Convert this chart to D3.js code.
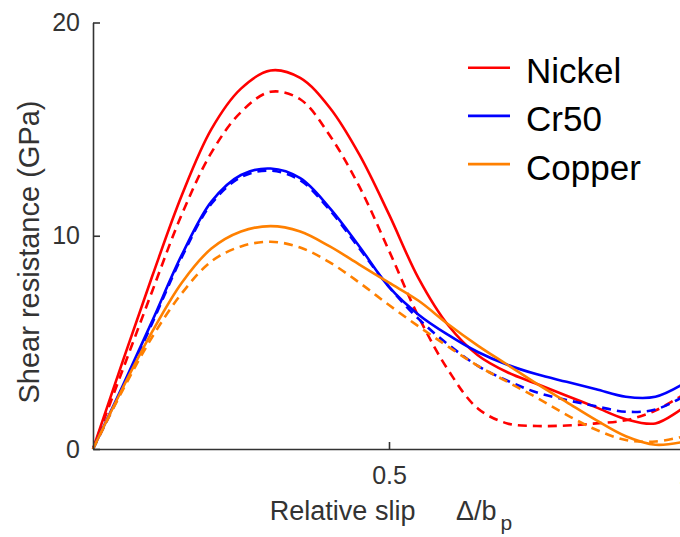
<!DOCTYPE html>
<html>
<head>
<meta charset="utf-8">
<script src="https://cdn.jsdelivr.net/npm/d3@7"></script>
<style>
  html, body { margin: 0; padding: 0; background: #fff; }
  svg { display: block; font-family: "Liberation Sans", Arial, sans-serif; }
</style>
</head>
<body>
<div id="chart"></div>
<script>
// Relative slip positions (Δ/b_p)
const slip = [0, 0.05, 0.1, 0.15, 0.2, 0.25, 0.3, 0.35, 0.4, 0.45, 0.5,
  0.55, 0.6, 0.65, 0.7, 0.75, 0.8, 0.85, 0.9, 0.95, 1.0];

// Shear resistance (GPa), solid = full model, dashed = approximation
const nickelSolid = [0, 4.1, 8.1, 11.9, 15.0, 16.9, 17.75, 17.4, 16.0, 13.8, 11.0,
  8.0, 5.8, 4.4, 3.6, 3.05, 2.5, 1.95, 1.4, 1.2, 2.0];
const nickelDashed = [0, 3.7, 7.4, 11.0, 13.9, 15.8, 16.75, 16.4, 14.7, 12.3, 9.3,
  6.2, 3.7, 1.9, 1.2, 1.08, 1.1, 1.2, 1.35, 1.8, 2.6];
const cr50Solid = [0, 2.95, 6.0, 9.1, 11.6, 12.85, 13.15, 12.7, 11.3, 9.5, 7.6,
  6.3, 5.35, 4.55, 3.95, 3.5, 3.15, 2.8, 2.45, 2.45, 3.1];
const cr50Dashed = [0, 2.85, 5.9, 9.0, 11.5, 12.75, 13.05, 12.6, 11.2, 9.4, 7.6,
  6.1, 4.9, 3.9, 3.2, 2.65, 2.3, 2.0, 1.75, 1.85, 2.5];
const copperSolid = [0, 2.85, 5.5, 7.8, 9.4, 10.2, 10.45, 10.2, 9.5, 8.65, 7.8,
  6.95, 5.85, 4.85, 3.95, 3.05, 2.2, 1.35, 0.6, 0.2, 0.35];
const copperDashed = [0, 2.75, 5.25, 7.3, 8.8, 9.5, 9.72, 9.45, 8.75, 7.8, 6.75,
  5.75, 4.8, 3.9, 3.15, 2.4, 1.6, 0.9, 0.42, 0.35, 0.6];

const materials = ["Nickel", "Cr50", "Copper"];
const colors = ["#ff0000", "#0000ff", "#ff8000"];
const xTicks = [0.5, 1];
const yTicks = [0, 10, 20];

const series = [
  { name: "Nickel", values: nickelSolid, dashed: false },
  { name: "Nickel", values: nickelDashed, dashed: true },
  { name: "Cr50", values: cr50Solid, dashed: false },
  { name: "Cr50", values: cr50Dashed, dashed: true },
  { name: "Copper", values: copperSolid, dashed: false },
  { name: "Copper", values: copperDashed, dashed: true },
];

const width = 680;
const height = 537;
const marginLeft = 93;
const marginTop = 22.5;
const marginBottom = 88; // axis at y = 449
const plotRight = 685; // x = 1 falls just past the window edge

const x = d3.scaleLinear().domain([0, 1]).range([marginLeft, plotRight]);
const y = d3.scaleLinear().domain([0, 20]).range([height - marginBottom, marginTop]);

const color = d3.scaleOrdinal().domain(materials).range(colors);

const svg = d3.select("#chart")
  .append("svg")
  .attr("width", width)
  .attr("height", height)
  .attr("viewBox", [0, 0, width, height]);

svg.append("rect")
  .attr("width", width)
  .attr("height", height)
  .attr("fill", "#fff");

// Lines
const line = d3.line()
  .x((d, i) => x(slip[i]))
  .y((d) => y(d))
  .curve(d3.curveCatmullRom.alpha(0.5));

svg.append("g")
  .selectAll("path")
  .data(series)
  .join("path")
  .attr("fill", "none")
  .attr("stroke", (d) => color(d.name))
  .attr("stroke-width", 2.6)
  .attr("stroke-dasharray", (d) => (d.dashed ? "9,6" : null))
  .attr("d", (d) => line(d.values));

// Axes (ticks point inward)
const axisColor = "#333";

svg.append("g")
  .attr("transform", `translate(0,${y(0)})`)
  .call(d3.axisBottom(x).tickValues(xTicks).tickFormat(d3.format("~g"))
    .tickSizeInner(-7).tickSizeOuter(0).tickPadding(17))
  .call((g) => g.select(".domain").attr("stroke", axisColor).attr("stroke-width", 1.6))
  .call((g) => g.selectAll(".tick line").attr("stroke", axisColor).attr("stroke-width", 1.6))
  .call((g) => g.selectAll(".tick text").attr("fill", axisColor)
    .attr("font-size", 25).attr("font-family", "Liberation Sans, Arial, sans-serif"));

svg.append("g")
  .attr("transform", `translate(${x(0)},0)`)
  .call(d3.axisLeft(y).tickValues(yTicks)
    .tickSizeInner(-7).tickSizeOuter(0).tickPadding(13))
  .call((g) => g.select(".domain").attr("stroke", axisColor).attr("stroke-width", 1.6))
  .call((g) => g.selectAll(".tick line").attr("stroke", axisColor).attr("stroke-width", 1.6))
  .call((g) => g.selectAll(".tick text").attr("fill", axisColor)
    .attr("font-size", 25).attr("font-family", "Liberation Sans, Arial, sans-serif"));

// Axis labels
const xLabel = svg.append("text")
  .attr("x", (marginLeft + plotRight) / 2 + 2)
  .attr("y", 520)
  .attr("text-anchor", "middle")
  .attr("fill", axisColor)
  .attr("font-size", 27);
xLabel.append("tspan").text("Relative slip\u2003\u2002\u0394/b");
xLabel.append("tspan").attr("dx", 4).attr("dy", 10).attr("font-size", 21).text("p");

svg.append("text")
  .attr("transform", `translate(39,252) rotate(-90)`)
  .attr("text-anchor", "middle")
  .attr("fill", axisColor)
  .attr("font-size", 29)
  .text("Shear resistance (GPa)");

// Legend
const legend = svg.append("g")
  .selectAll("g")
  .data(materials)
  .join("g")
  .attr("transform", (d, i) => `translate(468,${67.7 + i * 48.2})`);

legend.append("line")
  .attr("x1", 0)
  .attr("x2", 42)
  .attr("stroke", (d) => color(d))
  .attr("stroke-width", 2.6);

legend.append("text")
  .attr("x", 58)
  .attr("y", 15.5)
  .attr("font-size", 35)
  .attr("fill", "#000")
  .text((d) => d);
</script>
</body>
</html>
